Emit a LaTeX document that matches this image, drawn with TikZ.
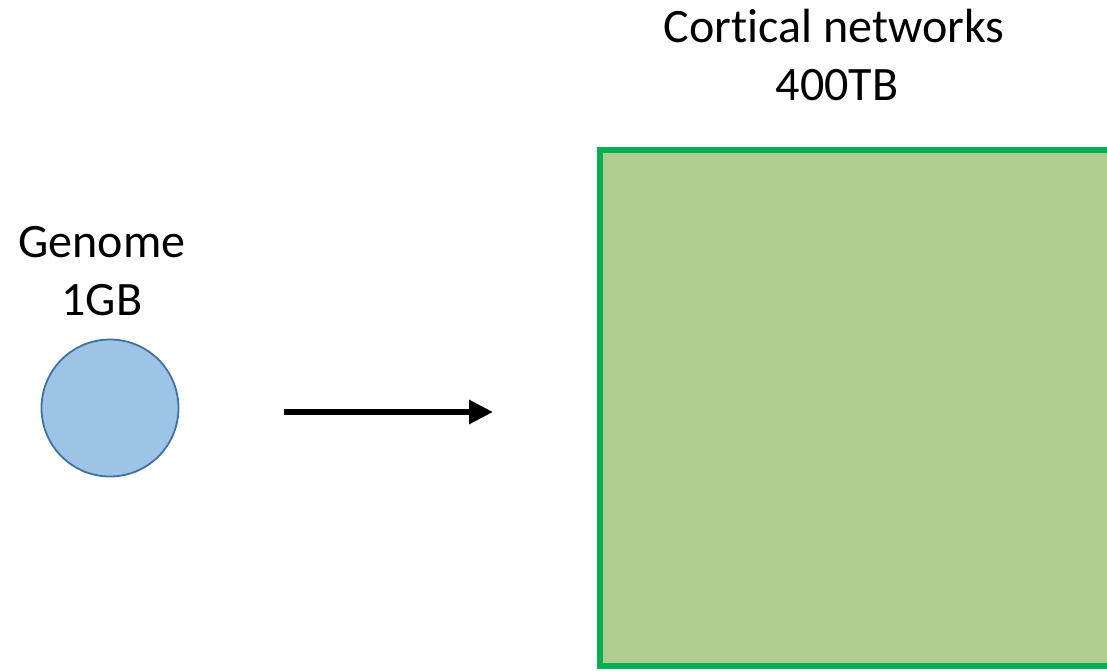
\documentclass[tikz,border=0pt]{standalone}
\usepackage{fontspec}
\setmainfont[Ligatures={NoCommon}]{Carlito}
\usetikzlibrary{arrows.meta}
\definecolor{cellfill}{HTML}{9DC3E6}
\definecolor{celledge}{HTML}{41719C}
\definecolor{netfill}{HTML}{AFCD8E}
\definecolor{netedge}{HTML}{00B050}
\tikzset{
  caption/.style={font=\fontsize{48}{58}\selectfont, anchor=base, inner sep=0pt},
  flow/.style={line width=6.5pt, -{Triangle[length=24pt, width=23pt]}}
}
\begin{document}
\begin{tikzpicture}[x=1pt, y=-1pt]
  \useasboundingbox (0,0) rectangle (1107,670);
  \clip (0,0) rectangle (1107,670);
  % genome
  \node[circle, minimum size=137pt, inner sep=0pt, outer sep=0pt, fill=cellfill, draw=celledge, line width=1.8pt] (genome) at (110,408) {};
  \node[caption] (genomelabel) at (102,257) {Genome};
  \node[caption] (genomesize) at (102,315) {1GB};
  % cortical networks
  \node[rectangle, anchor=north west, minimum width=540pt, minimum height=516pt, inner sep=0pt, outer sep=0pt, fill=netfill, draw=netedge, line width=6pt] (cortex) at (599.5,150) {};
  \node[caption] (cortexlabel) at (834,42) {Cortical networks};
  \node[caption] (cortexsize) at (837,100) {400TB};
  % arrow
  \coordinate (from) at (284,412);
  \coordinate (to) at (493,412);
  \draw[flow] (from) -- (to);
\end{tikzpicture}
\end{document}
